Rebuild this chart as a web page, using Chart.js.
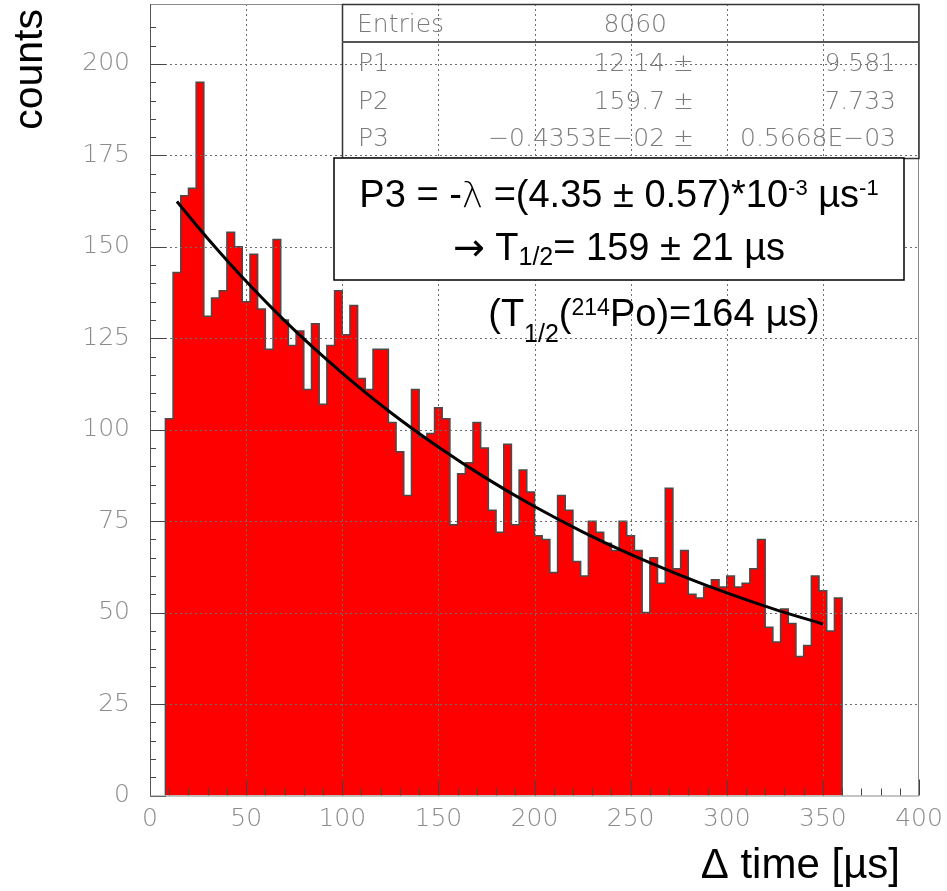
<!DOCTYPE html>
<html>
<head>
<meta charset="utf-8">
<script src="https://cdn.jsdelivr.net/npm/chart.js@4.4.0/dist/chart.umd.min.js"></script>
<style>
    html, body { margin: 0; padding: 0; background: #fff; }
    #wrap { width: 947px; height: 891px; position: relative; }
</style>
</head>
<body>
<div id="wrap"><canvas id="chart-decay"></canvas></div>
<script>
// Delta-time histogram with exponential decay fit (ROOT style)
const BIN_START = 8;  // µs, low edge of first bin
const BIN_WIDTH = 4;  // µs
const counts = [
    103, 143, 164, 166, 195, 131, 136, 138, 154, 150, 135, 148, 133, 122, 152, 130, 123, 127, 111, 129, 107, 123,
    138, 126, 134, 114, 111, 122, 122, 102, 94, 82, 111, 98, 99, 106, 103, 74, 88, 91, 102, 95, 78, 72,
    96, 74, 89, 83, 71, 70, 61, 82, 78, 64, 60, 75, 72, 69, 67, 75, 71, 67, 50, 65, 58, 84,
    62, 67, 55, 54, 57, 59, 57, 60, 57, 58, 62, 70, 46, 42, 51, 47, 38, 41, 60, 56, 45, 54,
];

// fit curve
const fitX = [14, 30, 50, 75, 100, 125, 150, 175, 200, 225, 250, 275, 300, 325, 350];
const fitY = [162.4, 152.3, 140.6, 127.3, 115.5, 104.8, 95.3, 86.7, 79.0, 72.1, 65.9, 60.4, 55.4, 50.9, 46.9];

const xMajor = [0, 50, 100, 150, 200, 250, 300, 350, 400];
const yMajor = [0, 25, 50, 75, 100, 125, 150, 175, 200];

const ENTRIES = '8060';
const statNames = ['P1', 'P2', 'P3'];
const statValues = ['12.14 \u00b1', '159.7 \u00b1', '\u22120.4353E\u221202 \u00b1'];
const statErrors = ['9.581', '7.733', '0.5668E\u221203'];

const ROOT_FONT = '200 25px "DejaVu Sans", sans-serif';
const SANS = '"Liberation Sans", Arial, sans-serif';
const SYMB = '"DejaVu Sans", sans-serif';

const histPoints = [{ x: BIN_START, y: 0 }];
counts.forEach((c, i) => histPoints.push({ x: BIN_START + i * BIN_WIDTH, y: c }));
const xEnd = BIN_START + counts.length * BIN_WIDTH;
histPoints.push({ x: xEnd, y: counts[counts.length - 1] });
histPoints.push({ x: xEnd, y: 0 });

const fitPoints = fitX.map((x, i) => ({ x, y: fitY[i] }));

function drawRich(c, parts, cx, baseline) {
    let total = 0;
    const spec = parts.map(p => {
        c.font = `${p.w8 || ''} ${p.size}px ${p.fam || SANS}`;
        const w = c.measureText(p.t).width;
        total += w;
        return { ...p, w };
    });
    let x = cx - total / 2;
    c.textAlign = 'left';
    c.textBaseline = 'alphabetic';
    spec.forEach(s => {
        c.font = `${s.w8 || ''} ${s.size}px ${s.fam || SANS}`;
        c.fillText(s.t, x, baseline + (s.dy || 0));
        x += s.w;
    });
}

// grid + tick marks, drawn over the histogram but under the fit line
const gridPlugin = {
    id: 'rootGrid',
    afterDatasetDraw(chart, args) {
        if (args.index !== 0) return;
        const { ctx: c, chartArea: a, scales: { x, y } } = chart;
        c.save();
        c.strokeStyle = '#6e6e6e';
        c.lineWidth = 1;
        c.setLineDash([2, 3]);
        xMajor.forEach(v => {
            if (v <= x.min || v >= x.max) return;
            const px = Math.round(x.getPixelForValue(v)) + 0.5;
            c.beginPath(); c.moveTo(px, a.top); c.lineTo(px, a.bottom); c.stroke();
        });
        yMajor.forEach(v => {
            if (v <= y.min || v >= y.max) return;
            const py = Math.round(y.getPixelForValue(v)) + 0.5;
            c.beginPath(); c.moveTo(a.left, py); c.lineTo(a.right, py); c.stroke();
        });
        c.setLineDash([]);
        c.strokeStyle = '#444';
        x.ticks.forEach(t => {
            if (t.value % 10 !== 0) return;
            const len = t.value % 50 === 0 ? 16 : 7;
            const px = Math.round(x.getPixelForValue(t.value)) + 0.5;
            c.beginPath(); c.moveTo(px, a.bottom); c.lineTo(px, a.bottom - len); c.stroke();
        });
        y.ticks.forEach(t => {
            if (t.value % 5 !== 0) return;
            const len = t.value % 25 === 0 ? 16 : 6;
            const py = Math.round(y.getPixelForValue(t.value)) + 0.5;
            c.beginPath(); c.moveTo(a.left, py); c.lineTo(a.left + len, py); c.stroke();
        });
        c.restore();
    },
    afterDraw(chart) {
        const { ctx: c, chartArea: a, scales: { x, y } } = chart;
        c.save();
        // frame
        c.strokeStyle = '#8a8a8a';
        c.lineWidth = 1;
        c.strokeRect(a.left + 0.5, a.top + 0.5, a.right - a.left - 1, a.bottom - a.top);
        c.strokeStyle = '#555';
        c.beginPath(); c.moveTo(a.left + 0.5, a.top); c.lineTo(a.left + 0.5, a.bottom); c.stroke();

        // tick labels
        c.fillStyle = '#8c8c8c';
        c.font = ROOT_FONT;
        c.textAlign = 'right';
        c.textBaseline = 'middle';
        yMajor.forEach(v => c.fillText(String(v), a.left - 20, y.getPixelForValue(v)));
        c.textAlign = 'center';
        c.textBaseline = 'top';
        xMajor.forEach(v => c.fillText(String(v), x.getPixelForValue(v), a.bottom + 11));

        // axis titles
        c.fillStyle = '#000';
        c.font = `42px ${SANS}`;
        c.textAlign = 'right';
        c.textBaseline = 'alphabetic';
        c.fillText('\u0394 time [\u00b5s]', 900, 878);
        c.save();
        c.translate(42, 9);
        c.rotate(-Math.PI / 2);
        c.font = `41px ${SANS}`;
        c.fillText('counts', 0, 0);
        c.restore();

        // stats box
        const bx = 342, by = a.top, bw = a.right - bx, bh = 154;
        c.strokeStyle = '#333';
        c.lineWidth = 1.5;
        c.strokeRect(bx + 0.5, by + 0.5, bw - 0.5, bh);
        c.strokeStyle = '#555';
        c.lineWidth = 2;
        c.beginPath(); c.moveTo(bx, 42); c.lineTo(a.right, 42); c.stroke();
        c.fillStyle = '#7a7a7a';
        c.font = ROOT_FONT;
        c.textBaseline = 'alphabetic';
        c.textAlign = 'left';
        c.fillText('Entries', 357, 32);
        c.textAlign = 'right';
        c.fillText(ENTRIES, 667, 32);
        const rowBase = [71, 109, 146];
        statNames.forEach((n, i) => {
            c.textAlign = 'left';
            c.fillText(n, 358, rowBase[i]);
            c.textAlign = 'right';
            c.fillText(statValues[i], 694, rowBase[i]);
            c.fillText(statErrors[i], 896, rowBase[i]);
        });

        // fit result box
        c.fillStyle = '#fff';
        c.fillRect(334, 158, 570, 122);
        c.strokeStyle = '#000';
        c.lineWidth = 1.5;
        c.strokeRect(334, 158, 570, 122);
        c.fillStyle = '#000';
        drawRich(c, [
            { t: 'P3 = -', size: 38 },
            { t: '\u03bb', size: 36, fam: SYMB, w8: 300 },
            { t: ' =(4.35 \u00b1 0.57)*10', size: 38 },
            { t: '-3', size: 22, dy: -12 },
            { t: ' \u00b5s', size: 38 },
            { t: '-1', size: 22, dy: -12 },
        ], 619, 207);
        drawRich(c, [
            { t: '\u2192', size: 38, fam: SYMB, w8: 'normal' },
            { t: ' T', size: 38 },
            { t: '1/2', size: 25, dy: 5 },
            { t: '= 159 \u00b1 21 \u00b5s', size: 38 },
        ], 619, 260);
        drawRich(c, [
            { t: '(T', size: 38 },
            { t: '1/2', size: 25, dy: 16 },
            { t: '(', size: 38 },
            { t: '214', size: 23, dy: -11 },
            { t: 'Po)=164 ', size: 38 },
            { t: '\u03bc', size: 36, fam: SYMB, w8: 'normal' },
            { t: 's)', size: 38 },
        ], 654, 326);
        c.restore();
    },
};

new Chart(document.getElementById('chart-decay').getContext('2d'), {
    type: 'line',
    data: {
        datasets: [
            {
                label: 'counts',
                data: histPoints,
                stepped: 'before',
                fill: 'origin',
                backgroundColor: '#ff0000',
                borderColor: '#4a4a4a',
                borderWidth: 1.5,
                pointRadius: 0,
                order: 1,
            },
            {
                label: 'fit',
                data: fitPoints,
                borderColor: '#000',
                borderWidth: 3,
                pointRadius: 0,
                fill: false,
                cubicInterpolationMode: 'monotone',
                order: 0,
            },
        ],
    },
    plugins: [gridPlugin],
    options: {
        responsive: true,
        maintainAspectRatio: false,
        animation: false,
        events: [],
        layout: { padding: { left: 150, right: 28, top: 4, bottom: 95.5 } },
        plugins: { legend: { display: false }, tooltip: { enabled: false } },
        scales: {
            x: {
                type: 'linear',
                min: 0,
                max: 400,
                ticks: { display: false, stepSize: 10 },
                grid: { display: false, drawTicks: false },
                border: { display: false },
            },
            y: {
                type: 'linear',
                min: 0,
                max: 216.4,
                ticks: { display: false, stepSize: 5 },
                grid: { display: false, drawTicks: false },
                border: { display: false },
            },
        },
    },
});
</script>
</body>
</html>
